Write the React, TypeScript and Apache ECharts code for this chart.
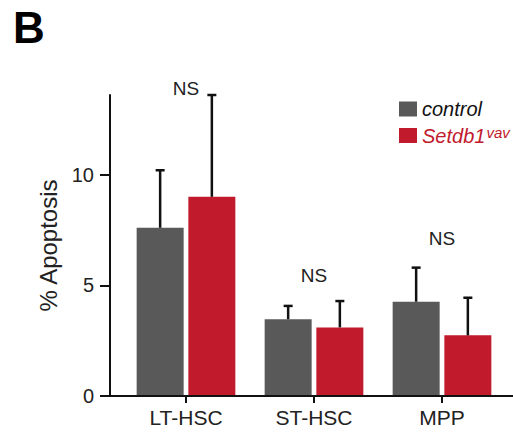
import React, { useEffect, useRef } from "react";
import * as echarts from "echarts";

const categories = ["LT-HSC", "ST-HSC", "MPP"];
const controlMean = [7.6, 3.47, 4.26];
const controlErr = [2.6, 0.6, 1.54];
const mutantMean = [9.0, 3.1, 2.74];
const mutantErr = [4.6, 1.19, 1.7];
const nsLabels = ["NS", "NS", "NS"];
const nsY = [13.9, 5.45, 7.1];
const yTicks = [0, 5, 10];

const GRAY = "#595959";
const RED = "#c21a2d";
const FONT = "Liberation Sans, Arial, Helvetica, sans-serif";
const BAR_W = 47;
const BAR_GAP = 4.7;

export default function App() {
  const ref = useRef<HTMLDivElement>(null);
  useEffect(() => {
    if (!ref.current) return;
    const chart = echarts.init(ref.current, null, { renderer: "svg" });
    const off = (BAR_W + BAR_GAP) / 2;
    const errSeries = (means: number[], errs: number[], dir: number) => ({
      type: "custom",
      clip: false,
      silent: true,
      z: 5,
      data: means.map((m, i) => [i, m, errs[i]]),
      encode: { x: 0, y: 1 },
      renderItem: (params: any, api: any) => {
        const i = api.value(0);
        const m = api.value(1);
        const e = api.value(2);
        const b = api.coord([i, m]);
        const t = api.coord([i, m + e]);
        const x = b[0] + dir * off;
        const st = { stroke: "#111", lineWidth: 2.5 };
        return {
          type: "group",
          children: [
            { type: "line", shape: { x1: x, y1: b[1], x2: x, y2: t[1] }, style: st },
            { type: "line", shape: { x1: x - 4.5, y1: t[1], x2: x + 4.5, y2: t[1] }, style: st },
          ],
        };
      },
    });
    chart.setOption({
      animation: false,
      backgroundColor: "#ffffff",
      grid: { left: 122, right: 7, top: 95, bottom: 37, containLabel: false },
      legend: {
        orient: "vertical",
        left: 394,
        top: 94,
        itemWidth: 18,
        itemHeight: 15,
        itemGap: 6,
        icon: "rect",
        data: [
          { name: "control" },
          { name: "Setdb1vav" },
        ],
        formatter: (name: string) =>
          name === "control" ? "{c|control}" : "{s|Setdb1}{sup|vav}",
        textStyle: {
          fontFamily: FONT,
          rich: {
            c: { fontFamily: FONT, fontStyle: "italic", fontSize: 20, color: "#111" },
            s: { fontFamily: FONT, fontStyle: "italic", fontSize: 20, color: RED },
            sup: { fontFamily: FONT, fontStyle: "italic", fontSize: 15, color: RED, verticalAlign: "top", padding: [0, 0, 6, 1] },
          },
        },
      },
      xAxis: {
        type: "category",
        data: categories,
        axisLine: { show: false },
        axisTick: { show: true, alignWithLabel: true, length: 7, lineStyle: { color: "#111", width: 2 } },
        axisLabel: { fontFamily: FONT, fontSize: 21, color: "#222", margin: 11 },
      },
      yAxis: {
        type: "value",
        min: 0,
        max: 13.6,
        interval: 5,
        offset: 12,
        splitLine: { show: false },
        axisLine: { show: true, lineStyle: { color: "#111", width: 2 } },
        axisTick: { show: true, length: 10, customValues: yTicks, lineStyle: { color: "#111", width: 2 } },
        axisLabel: { fontFamily: FONT, fontSize: 20, color: "#222", margin: 16, customValues: yTicks },
        name: "% Apoptosis",
        nameLocation: "middle",
        nameRotate: 90,
        nameGap: 44,
        nameTextStyle: { fontFamily: FONT, fontSize: 24, color: "#222" },
      },
      graphic: [
        {
          type: "text",
          left: 13,
          top: 5,
          style: { text: "B", font: `bold 44px ${FONT}`, fill: "#000" },
        },
        {
          type: "line",
          shape: { x1: 100, y1: 396, x2: 513, y2: 396 },
          style: { stroke: "#111", lineWidth: 2 },
          z: 10,
        },
      ],
      series: [
        {
          name: "control",
          type: "bar",
          data: controlMean,
          barWidth: BAR_W,
          barGap: "10%",
          itemStyle: { color: GRAY },
        },
        {
          name: "Setdb1vav",
          type: "bar",
          data: mutantMean,
          barWidth: BAR_W,
          barGap: "10%",
          itemStyle: { color: RED },
        },
        errSeries(controlMean, controlErr, -1),
        errSeries(mutantMean, mutantErr, 1),
        {
          type: "custom",
          clip: false,
          silent: true,
          data: nsY.map((y, i) => [i, y]),
          encode: { x: 0, y: 1 },
          renderItem: (params: any, api: any) => {
            const i = api.value(0);
            const p = api.coord([i, api.value(1)]);
            return {
              type: "text",
              x: p[0],
              y: p[1],
              style: {
                text: nsLabels[params.dataIndex],
                font: `19px ${FONT}`,
                fill: "#222",
                align: "center",
                verticalAlign: "middle",
              },
            };
          },
        },
      ],
    });
    return () => chart.dispose();
  }, []);
  return (
    <div
      ref={ref}
      style={{ position: "absolute", left: 0, top: 0, width: 513, height: 433 }}
    />
  );
}
